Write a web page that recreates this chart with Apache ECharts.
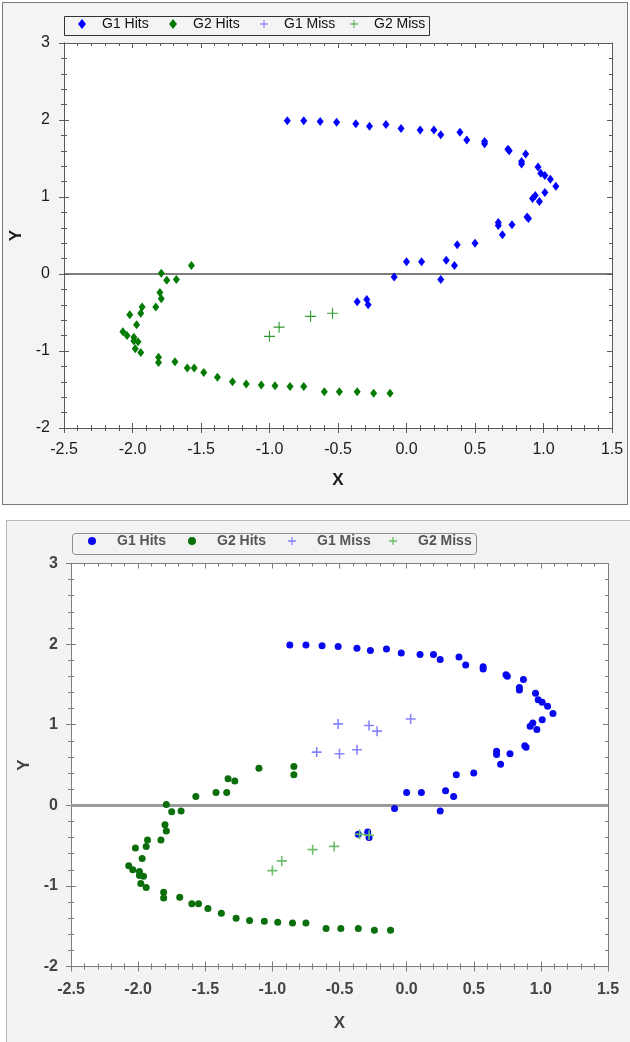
<!DOCTYPE html>
<html lang="en">
<head>
<meta charset="UTF-8">
<title>G1 / G2 hits and misses</title>
<script src="https://cdn.jsdelivr.net/npm/echarts@6/dist/echarts.min.js"></script>
<style>
  body { margin: 0; background: #fff; width: 630px; height: 1042px; overflow: hidden; position: relative; }
  .panel { position: absolute; }
  #top { left: 2px; top: 2px; width: 624px; height: 501px; border: 1px solid #7a7a7a; background: #f4f4f4; }
  #bottom { left: 6px; top: 520px; width: 630px; height: 521px; border: 1px solid #b8b8b8; background: #f3f3f3; }
</style>
</head>
<body>
<div id="top" class="panel"></div>
<div id="bottom" class="panel"></div>
<script>
// tick labels (both charts use the same scales)
const xTickLabels = ['-2.5', '-2.0', '-1.5', '-1.0', '-0.5', '0.0', '0.5', '1.0', '1.5'];
const yTickLabels = ['-2', '-1', '0', '1', '2', '3'];
const seriesNames = ['G1 Hits', 'G2 Hits', 'G1 Miss', 'G2 Miss'];

// values
const g1Hits = [
  [-0.87, 1.99], [-0.75, 1.99], [-0.63, 1.98], [-0.51, 1.97], [-0.37, 1.95], [-0.27, 1.92],
  [-0.15, 1.94], [-0.04, 1.89], [0.10, 1.87], [0.20, 1.87], [0.25, 1.81], [0.39, 1.84],
  [0.44, 1.74], [0.57, 1.72], [0.57, 1.69], [0.74, 1.62], [0.75, 1.60], [0.87, 1.56],
  [0.84, 1.46], [0.84, 1.43], [0.96, 1.39], [0.98, 1.31], [1.01, 1.28], [1.05, 1.23],
  [1.09, 1.14], [1.01, 1.06], [0.94, 1.02], [0.92, 0.98], [0.97, 0.94], [0.88, 0.74],
  [0.89, 0.72], [0.67, 0.67], [0.67, 0.63], [0.77, 0.64], [0.70, 0.51], [0.37, 0.38],
  [0.50, 0.40], [0.00, 0.16], [0.11, 0.16], [0.29, 0.18], [0.35, 0.11], [-0.09, -0.04],
  [0.25, -0.07], [-0.36, -0.36], [-0.29, -0.33], [-0.28, -0.40]
];
const g2Hits = [
  [-1.57, 0.11], [-1.79, 0.01], [-1.75, -0.08], [-1.68, -0.07], [-1.80, -0.24], [-1.79, -0.32],
  [-1.83, -0.43], [-1.93, -0.43], [-1.94, -0.51], [-2.02, -0.53], [-1.97, -0.66], [-2.07, -0.75],
  [-2.04, -0.80], [-1.99, -0.82], [-1.99, -0.87], [-1.96, -0.88], [-1.98, -0.97], [-1.94, -1.02],
  [-1.81, -1.08], [-1.81, -1.15], [-1.69, -1.14], [-1.60, -1.22], [-1.55, -1.22], [-1.48, -1.28],
  [-1.38, -1.34], [-1.27, -1.40], [-1.17, -1.43], [-1.06, -1.44], [-0.96, -1.45], [-0.85, -1.46],
  [-0.75, -1.46], [-0.60, -1.53], [-0.49, -1.53], [-0.36, -1.53], [-0.24, -1.55], [-0.12, -1.55]
];
// extra points only in the lower chart
const g2HitsExtra = [[-1.42, 0.16], [-1.34, 0.16], [-1.33, 0.33], [-1.28, 0.30], [-1.10, 0.46], [-0.84, 0.48], [-0.84, 0.38]];
const g1MissLower = [[-0.51, 1.01], [-0.28, 0.99], [-0.22, 0.92], [0.03, 1.07], [-0.67, 0.66], [-0.50, 0.64], [-0.37, 0.69]];
const g2Miss = [[-1.00, -0.81], [-0.93, -0.69], [-0.70, -0.55], [-0.54, -0.51]];
const g2MissExtra = [[-0.35, -0.36], [-0.28, -0.37]];

const NARROW = "'Liberation Sans Narrow', 'Arial Narrow', 'Liberation Sans', Arial, sans-serif";
const plusThin = 'path://M4.5,0H5.5V4.5H10V5.5H5.5V10H4.5V5.5H0V4.5H4.5Z';
const plusThick = 'path://M4.2,0H5.8V4.2H10V5.8H5.8V10H4.2V5.8H0V4.2H4.2Z';

function tickLabel(labels) {
  return v => {
    const hit = labels.find(l => Math.abs(parseFloat(l) - v) < 1e-6);
    return hit === undefined ? '' : hit;
  };
}

function axisSet(dim, labels, st) {
  const min = parseFloat(labels[0]);
  const max = parseFloat(labels[labels.length - 1]);
  const base = {
    type: 'value', min: min, max: max, interval: (max - min) / (labels.length - 1),
    splitLine: { show: false },
    axisLine: { show: true, onZero: false, lineStyle: { color: st.frame, width: 1 } },
    axisTick: { show: true, length: 5, lineStyle: { color: st.frame } },
    minorTick: { show: true, splitNumber: 5, length: 3, lineStyle: { color: st.frame } },
    axisLabel: { show: false },
    gridIndex: 0
  };
  const near = dim === 'x' ? 'bottom' : 'left';
  const far = dim === 'x' ? 'top' : 'right';
  const main = Object.assign({}, base, {
    position: near,
    axisTick: Object.assign({}, base.axisTick, { inside: false }),
    axisLabel: {
      show: true, formatter: tickLabel(labels), fontFamily: NARROW,
      fontSize: st.tickFont, color: st.text, fontWeight: st.weight,
      margin: dim === 'x' ? st.xMargin : st.yMargin
    },
    name: dim === 'x' ? 'X' : 'Y',
    nameLocation: 'middle',
    nameGap: dim === 'x' ? st.xNameGap : st.yNameGap,
    nameTextStyle: { fontFamily: NARROW, fontSize: st.nameFont, fontWeight: 'bold', color: st.text }
  });
  const inner = Object.assign({}, base, { position: near, axisTick: Object.assign({}, base.axisTick, { inside: true }) });
  const opposite = Object.assign({}, base, { position: far, axisTick: Object.assign({}, base.axisTick, { inside: true }) });
  return [main, inner, opposite];
}

function buildOption(st) {
  const series = st.series.map((s, i) => {
    const out = {
      name: seriesNames[i], type: 'scatter', data: s.data,
      symbol: s.symbol, symbolSize: s.size,
      itemStyle: { color: s.color, opacity: 1 },
      emphasis: { disabled: true }
    };
    if (i === 0) {
      out.markLine = {
        silent: true, symbol: ['none', 'none'], z: 1, animation: false,
        label: { show: false },
        lineStyle: { color: st.zeroColor, width: st.zeroWidth, type: 'solid' },
        data: [{ yAxis: 0 }]
      };
    }
    return out;
  });
  const legends = seriesNames.map((n, i) => ({
    data: [n], left: st.legendX[i], top: st.legendTop, padding: 0,
    itemWidth: st.legendIcon[0], itemHeight: st.legendIcon[1], selectedMode: false,
    textStyle: {
      fontFamily: NARROW, fontSize: st.legendFont, color: st.legendText,
      fontWeight: st.weight, padding: [0, 0, 0, st.legendTextPad]
    }
  }));
  return {
    animation: false,
    grid: Object.assign({ show: true, backgroundColor: '#fff', borderWidth: 0, outerBoundsMode: 'none' }, st.grid),
    xAxis: axisSet('x', xTickLabels, st),
    yAxis: axisSet('y', yTickLabels, st),
    legend: legends,
    graphic: [{
      type: 'rect', silent: true, z: 0,
      shape: Object.assign({}, st.box),
      style: { fill: st.boxFill, stroke: st.boxStroke, lineWidth: 1 }
    }],
    series: series
  };
}

const topChart = echarts.init(document.getElementById('top'));
topChart.setOption(buildOption({
  grid: { left: 61, top: 40, width: 548, height: 385 },
  frame: '#5a5a5a', text: '#1a1a1a', weight: 'normal',
  tickFont: 16, nameFont: 17, xMargin: 14, yMargin: 14, xNameGap: 44, yNameGap: 35,
  zeroColor: '#555', zeroWidth: 1.5,
  legendX: [75, 166, 257, 347], legendTop: 14, legendIcon: [8, 10],
  legendFont: 14, legendText: '#111', legendTextPad: 11,
  box: { x: 61.5, y: 13.5, width: 365, height: 19, r: 0 }, boxFill: '#f4f4f4', boxStroke: '#333',
  series: [
    { data: g1Hits, symbol: 'diamond', size: [7, 9], color: '#0000ff' },
    { data: g2Hits, symbol: 'diamond', size: [7, 9], color: '#007a00' },
    { data: [], symbol: plusThin, size: 11, color: '#6464ff' },
    { data: g2Miss, symbol: plusThin, size: 11, color: '#2f9a2f' }
  ]
}));

const bottomChart = echarts.init(document.getElementById('bottom'));
bottomChart.setOption(buildOption({
  grid: { left: 64, top: 42.5, width: 537, height: 403 },
  frame: '#7d7d7d', text: '#444', weight: 'bold',
  tickFont: 16, nameFont: 17, xMargin: 15, yMargin: 13, xNameGap: 48, yNameGap: 38,
  zeroColor: '#9a9a9a', zeroWidth: 3,
  legendX: [81, 181, 281, 382], legendTop: 13, legendIcon: [8, 8],
  legendFont: 14, legendText: '#555', legendTextPad: 16,
  box: { x: 65.5, y: 12.5, width: 404, height: 21, r: 3 }, boxFill: '#f2f2f2', boxStroke: '#8c8c8c',
  series: [
    { data: g1Hits, symbol: 'circle', size: 7, color: '#0808ee' },
    { data: g2Hits.concat(g2HitsExtra), symbol: 'circle', size: 7, color: '#0a6e0a' },
    { data: g1MissLower, symbol: plusThick, size: 10, color: '#8585ff' },
    { data: g2Miss.concat(g2MissExtra), symbol: plusThick, size: 10, color: '#6cbf6c' }
  ]
}));
</script>
</body>
</html>
